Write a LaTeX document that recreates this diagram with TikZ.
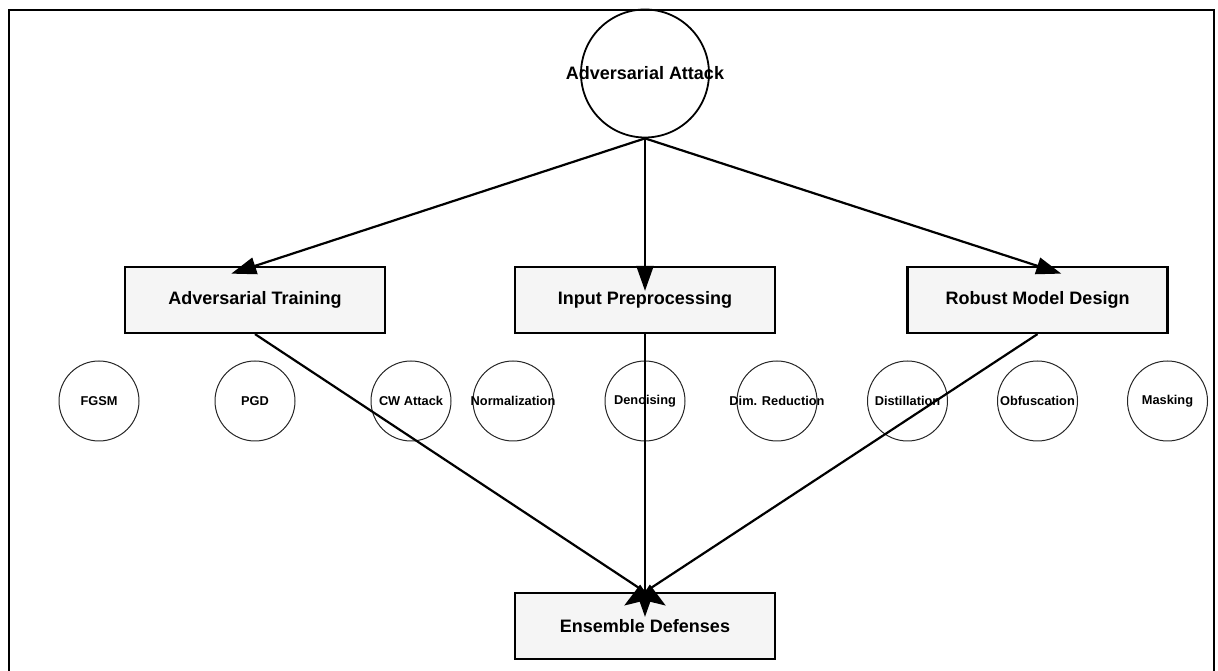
\documentclass[tikz,border=0pt]{standalone}
\usepackage{fontspec}
\setmainfont{Liberation Sans}
\usetikzlibrary{arrows.meta}
\definecolor{boxgray}{HTML}{F5F5F5}
\newcommand{\lbl}[1]{\makebox[0pt]{#1}}

\begin{document}
\begin{tikzpicture}[x=1pt, y=1pt,
  main/.style = {draw, circle, line width=1.8pt, minimum size=128pt, inner sep=0pt, font=\fontsize{18}{20}\selectfont\bfseries},
  box/.style = {draw, rectangle, line width=2.2pt, fill=boxgray, minimum width=260pt, minimum height=66pt, inner sep=0pt, font=\fontsize{18}{20}\selectfont\bfseries},
  leaf/.style = {draw=black!85, circle, line width=1pt, minimum size=80pt, inner sep=0pt, font=\fontsize{12.8}{14}\selectfont\bfseries},
  link/.style = {line width=2.2pt, -{Triangle[length=25pt, width=17pt]}, shorten >=-25pt}]
  \useasboundingbox (0,0) rectangle (1218,671);
  \draw[line width=1.8pt] (9,-5) -- (9,661) -- (1214,661) -- (1214,-5);

  \node[main] (attack) at (645,597.5) {\lbl{Adversarial Attack}};
  \node[node distance={226.5pt}, box] (prep) [below of=attack] {Input Preprocessing};
  \node[node distance={390pt}, box] (train) [left of=prep] {Adversarial Training};
  \node[node distance={392.5pt}, box] (robust) [right of=prep] {Robust Model Design};
  \node[node distance={326pt}, box] (ensemble) [below of=prep] {Ensemble Defenses};

  % leaves under each branch
  \node[node distance={101pt}, leaf] (pgd) [below of=train] {\lbl{PGD}};
  \node[node distance={156pt}, leaf] (fgsm) [left of=pgd] {\lbl{FGSM}};
  \node[node distance={156pt}, leaf] (cw) [right of=pgd] {\lbl{CW Attack}};
  \node[node distance={101pt}, leaf] (denoise) [below of=prep] {\lbl{Denoising}};
  \node[node distance={132pt}, leaf] (norm) [left of=denoise] {\lbl{Normalization}};
  \node[node distance={132pt}, leaf] (dimred) [right of=denoise] {\lbl{Dim. Reduction}};
  \node[node distance={101pt}, leaf] (obfus) [below of=robust] {\lbl{Obfuscation}};
  \node[node distance={130pt}, leaf] (distill) [left of=obfus] {\lbl{Distillation}};
  \node[node distance={130pt}, leaf] (mask) [right of=obfus] {\lbl{Masking}};

  \draw[link] (attack.south) -- (train.north);
  \draw[link] (attack.south) -- (prep.north);
  \draw[link] (attack.south) -- (robust.north);
  \draw[link] (train.south) -- (ensemble.north);
  \draw[link] (prep.south) -- (ensemble.north);
  \draw[link] (robust.south) -- (ensemble.north);
\end{tikzpicture}
\end{document}
